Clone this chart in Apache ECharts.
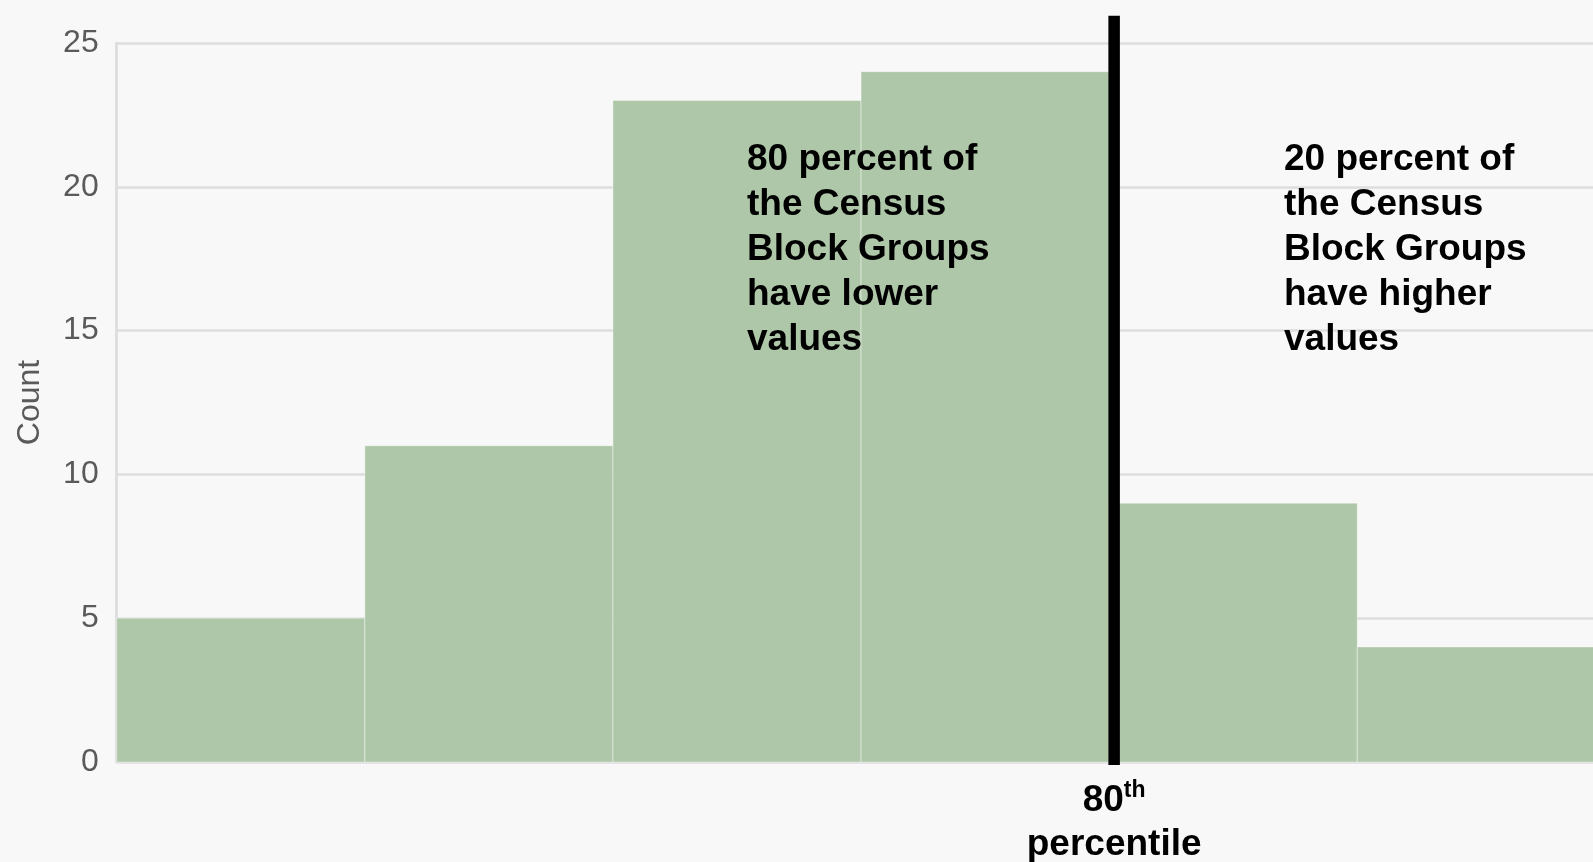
<!DOCTYPE html>
<html>
<head>
<meta charset="utf-8">
<script src="https://cdn.jsdelivr.net/npm/echarts@6/dist/echarts.min.js"></script>
<style>
html,body{margin:0;padding:0;background:#f8f8f8;}
#chart{width:1593px;height:862px;}
</style>
</head>
<body>
<div id="chart"></div>
<script>
// Data
const binStarts = [0, 1, 2, 3, 4, 5];
const counts = [5, 11, 23, 24, 9, 4];
const binWidth = 1;
const percentile80 = 4.02;
const xVisibleMax = 5.95; // right edge of the picture cuts the last bin
const yTicks = [0, 5, 10, 15, 20, 25];
const leftNote = ['80 percent of', 'the Census', 'Block Groups', 'have lower', 'values'];
const rightNote = ['20 percent of', 'the Census', 'Block Groups', 'have higher', 'values'];

const chart = echarts.init(document.getElementById('chart'), null, {renderer: 'canvas'});

const barData = binStarts.map((s, i) => [s, s + binWidth, counts[i]]);
const FONT = 'Liberation Sans, Arial, sans-serif';

const option = {
  backgroundColor: '#f8f8f8',
  animation: false,
  grid: {left: 116.7, top: 43, right: 0, bottom: 100, containLabel: false},
  xAxis: {
    type: 'value', min: 0, max: xVisibleMax,
    axisLine: {show: false}, axisTick: {show: false}, axisLabel: {show: false},
    splitLine: {show: false}
  },
  yAxis: {
    type: 'value', min: yTicks[0], max: yTicks[yTicks.length - 1], interval: 5,
    name: 'Count', nameLocation: 'middle', nameGap: 71,
    nameTextStyle: {fontFamily: FONT, fontSize: 32, color: '#5a5a5a'},
    axisLine: {show: true, lineStyle: {color: '#dcdcdc', width: 2.7}},
    axisTick: {show: false},
    axisLabel: {fontFamily: FONT, fontSize: 32, color: '#5a5a5a', margin: 18},
    splitLine: {show: true, lineStyle: {color: '#dedede', width: 2.7}}
  },
  series: [
    {
      type: 'custom',
      data: barData,
      encode: {x: [0, 1], y: 2},
      clip: false,
      renderItem: function (params, api) {
        const p0 = api.coord([api.value(0), api.value(2)]);
        const p1 = api.coord([api.value(1), 0]);
        return {
          type: 'rect',
          shape: {x: p0[0], y: p0[1], width: p1[0] - p0[0], height: p1[1] - p0[1]},
          style: {fill: '#aec7a8', stroke: 'rgba(255,255,255,0.35)', lineWidth: 1.2}
        };
      },
      z: 2
    },
    {
      type: 'line',
      data: [[percentile80, -0.1], [percentile80, 25.95]],
      symbol: 'none',
      clip: false,
      lineStyle: {color: '#000000', width: 11.5},
      z: 5
    }
  ]
};
chart.setOption(option);

const px = chart.convertToPixel({gridIndex: 0}, [percentile80, 0]);
chart.setOption({
  graphic: [
    {
      type: 'text', left: 747, top: 137, z: 10,
      style: {text: leftNote.join('\n'), font: 'bold 37px "Liberation Sans", Arial, sans-serif', fill: '#000', lineHeight: 45}
    },
    {
      type: 'text', left: 1284, top: 137, z: 10,
      style: {text: rightNote.join('\n'), font: 'bold 37px "Liberation Sans", Arial, sans-serif', fill: '#000', lineHeight: 45}
    },
    {
      type: 'text', x: px[0], y: 779, z: 10,
      style: {
        text: '{a|80}{s|th}\n{a|percentile}',
        align: 'center', verticalAlign: 'top',
        rich: {
          a: {fontFamily: FONT, fontWeight: 'bold', fontSize: 37, lineHeight: 44, color: '#000'},
          s: {fontFamily: FONT, fontWeight: 'bold', fontSize: 23, lineHeight: 34, verticalAlign: 'top', color: '#000'}
        }
      }
    }
  ]
});
</script>
</body>
</html>
